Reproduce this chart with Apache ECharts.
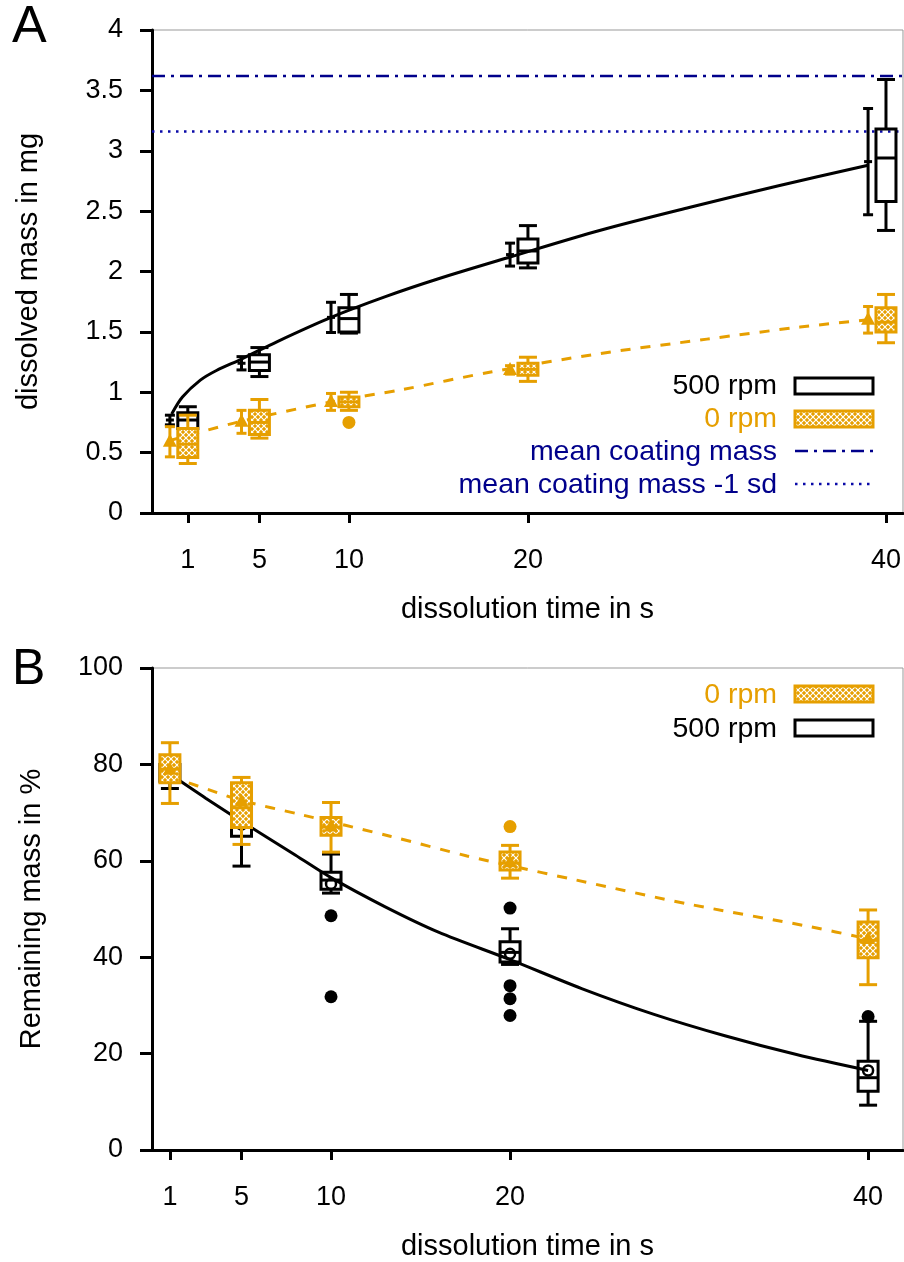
<!DOCTYPE html>
<html><head><meta charset="utf-8">
<script src="https://cdn.jsdelivr.net/npm/echarts@6/dist/echarts.min.js"></script>
<style>html,body{margin:0;padding:0;background:#fff}#c{width:904px;height:1262px}</style>
</head><body><div id="c"></div>
<script>
// ---------- DATA ----------
const timeTicks = [1, 5, 10, 20, 40];
// Panel A: dissolved mass (mg); box rows: [time, min, Q1, median, Q3, max]
const boxA500 = [
  [1, 0.65, 0.70, 0.77, 0.83, 0.88],
  [5, 1.13, 1.18, 1.25, 1.31, 1.37],
  [10, 1.49, 1.50, 1.61, 1.70, 1.81],
  [20, 2.03, 2.07, 2.17, 2.27, 2.38],
  [40, 2.34, 2.58, 2.94, 3.18, 3.59]
];
const boxA0 = [
  [1, 0.41, 0.46, 0.57, 0.70, 0.81],
  [5, 0.62, 0.65, 0.75, 0.85, 0.94],
  [10, 0.85, 0.88, 0.92, 0.96, 1.00],
  [20, 1.09, 1.14, 1.19, 1.24, 1.29],
  [40, 1.41, 1.50, 1.58, 1.70, 1.81]
];
const outliersA0 = [[10, 0.75]];
// mean +- sd: [time, mean, sd]
const meanA500 = [[1, 0.77, 0.04], [5, 1.24, 0.055], [10, 1.62, 0.125], [20, 2.14, 0.095], [40, 2.91, 0.44]];
const meanA0 = [[1, 0.59, 0.125], [5, 0.755, 0.095], [10, 0.92, 0.07], [20, 1.185, 0.035], [40, 1.60, 0.11]];
// fitted curves, [time] and [value]
const fitA500Time = [1.1, 1.7, 2.7, 3.6, 5, 7, 10, 13, 16, 20, 25, 30, 35, 40];
const fitA500Val = [0.82, 0.96, 1.10, 1.18, 1.275, 1.42, 1.62, 1.79, 1.94, 2.12, 2.34, 2.53, 2.71, 2.88];
const fitA0Time = [1, 2.7, 5, 10, 13.9, 19, 25, 31, 36.2, 40];
const fitA0Val = [0.60, 0.67, 0.76, 0.92, 1.02, 1.17, 1.32, 1.44, 1.54, 1.60];
const coatingMean = 3.62;
const coatingMeanMinusSd = 3.16;

// Panel B: remaining mass (%)
const boxB0 = [
  [1, 71.9, 76.2, 79.0, 82.0, 84.5],
  [5, 63.4, 66.9, 71.0, 76.2, 77.3],
  [10, 61.8, 65.3, 67.0, 69.0, 72.1],
  [20, 56.4, 58.1, 59.5, 61.8, 63.2],
  [40, 34.3, 39.9, 43.5, 47.3, 49.8]
];
const boxB500 = [
  [1, 75.0, 76.5, 78.0, 80.0, 81.5],
  [5, 58.9, 65.1, 68.0, 71.0, 74.0],
  [10, 53.3, 54.1, 56.0, 57.6, 61.4],
  [20, 38.5, 39.0, 41.0, 43.2, 45.9],
  [40, 9.3, 12.2, 15.0, 18.4, 26.7]
];
const outliersB0 = [[20, 67.1]];
const outliersB500 = [[10, 48.6], [10, 31.8], [20, 50.2], [20, 34.1], [20, 31.4], [20, 27.9], [40, 27.7]];
const meanB0 = [[1, 78.9], [5, 72.3], [10, 67.1], [20, 59.7], [40, 43.8]];
const meanB500 = [[1, 78.0], [5, 67.5], [10, 55.2], [20, 40.7], [40, 16.5]];
const fitB500Time = [1, 3, 5.5, 8, 10, 13, 16, 20, 24, 28, 32, 36, 40];
const fitB500Val = [78, 73, 67, 61.2, 56.5, 50.5, 45.2, 39.5, 33.5, 28.2, 23.7, 19.8, 16.5];
const fitB0Time = [1, 3.6, 5, 8.3, 13.3, 17.6, 20, 23.7, 30, 36.8, 40];
const fitB0Val = [77.5, 74.2, 72.5, 69.6, 65.1, 61, 59, 56, 51, 46.3, 43.8];

// ---------- STYLE ----------
const ORANGE = '#E69F00';
const BLUE = '#00008B';
const BLUE2 = '#0a0aa8';
const FONT = "'Liberation Sans', Arial, sans-serif";
const TICK_FS = 27, TITLE_FS = 29, LEG_FS = 28.5;
const MEAN_SHIFT_A = -1; // means plotted beside the boxes in panel A

function makePattern() {
  const c = document.createElement('canvas');
  c.width = 6; c.height = 6;
  const g = c.getContext('2d');
  g.fillStyle = ORANGE; g.fillRect(0, 0, 6, 6);
  g.strokeStyle = '#ffffff'; g.lineWidth = 1.2;
  g.beginPath();
  g.moveTo(0, 0); g.lineTo(6, 6);
  g.moveTo(6, 0); g.lineTo(0, 6);
  g.stroke();
  return { image: c, repeat: 'repeat' };
}
const PATTERN = makePattern();

function boxRender(stroke, fill) {
  return function (params, api) {
    const t = api.value(0);
    const p = [1, 2, 3, 4, 5].map(i => api.coord([t, api.value(i)]));
    const x = p[0][0], hw = 10, cw = 9;
    const ls = { stroke: stroke, lineWidth: 3 };
    return {
      type: 'group', children: [
        { type: 'line', shape: { x1: x, y1: p[0][1], x2: x, y2: p[1][1] }, style: ls },
        { type: 'line', shape: { x1: x, y1: p[3][1], x2: x, y2: p[4][1] }, style: ls },
        { type: 'line', shape: { x1: x - cw, y1: p[0][1], x2: x + cw, y2: p[0][1] }, style: ls },
        { type: 'line', shape: { x1: x - cw, y1: p[4][1], x2: x + cw, y2: p[4][1] }, style: ls },
        { type: 'rect', shape: { x: x - hw, y: p[3][1], width: 2 * hw, height: p[1][1] - p[3][1] },
          style: { fill: fill, stroke: stroke, lineWidth: 3 } },
        { type: 'line', shape: { x1: x - hw, y1: p[2][1], x2: x + hw, y2: p[2][1] }, style: ls }
      ]
    };
  };
}

function errRender(color, marker, shift) {
  return function (params, api) {
    const t = api.value(0) + shift, m = api.value(1), s = api.value(2);
    const pm = api.coord([t, m]), pl = api.coord([t, m - s]), pu = api.coord([t, m + s]);
    const x = pm[0], cw = 5;
    const ls = { stroke: color, lineWidth: 3 };
    const ch = [
      { type: 'line', shape: { x1: x, y1: pl[1], x2: x, y2: pu[1] }, style: ls },
      { type: 'line', shape: { x1: x - cw, y1: pl[1], x2: x + cw, y2: pl[1] }, style: ls },
      { type: 'line', shape: { x1: x - cw, y1: pu[1], x2: x + cw, y2: pu[1] }, style: ls }
    ];
    if (marker === 'triangle') {
      ch.push({ type: 'polygon', shape: { points: [[x, pm[1] - 8], [x + 7, pm[1] + 5], [x - 7, pm[1] + 5]] },
        style: { fill: color } });
    } else {
      ch.push({ type: 'line', shape: { x1: x - 4, y1: pm[1], x2: x + 4, y2: pm[1] }, style: ls });
    }
    return { type: 'group', children: ch };
  };
}

function meanMarkerRender(color, marker) {
  return function (params, api) {
    const p = api.coord([api.value(0), api.value(1)]);
    if (marker === 'triangle') {
      return { type: 'polygon', shape: { points: [[p[0], p[1] - 8], [p[0] + 7, p[1] + 5], [p[0] - 7, p[1] + 5]] },
        style: { fill: color } };
    }
    return { type: 'circle', shape: { cx: p[0], cy: p[1], r: 5 }, style: { fill: 'none', stroke: color, lineWidth: 2.5 } };
  };
}

function zip(a, b, shift) { return a.map((t, i) => [t + (shift || 0), b[i]]); }

const axisCommonX = (gi, min, max, name, gap) => ({
  type: 'value', gridIndex: gi, min: min, max: max,
  name: name, nameLocation: 'middle', nameGap: gap,
  nameTextStyle: { fontSize: TITLE_FS, color: '#000', fontFamily: FONT },
  axisLine: { show: true, onZero: false, lineStyle: { color: '#000', width: 3 } },
  axisTick: { show: true, inside: false, length: 10, customValues: timeTicks, lineStyle: { color: '#000', width: 3 } },
  axisLabel: { customValues: timeTicks, fontSize: TICK_FS, color: '#000', fontFamily: FONT, margin: 34 },
  splitLine: { show: false }
});
const axisCommonY = (gi, min, max, interval, name, gap) => ({
  type: 'value', gridIndex: gi, min: min, max: max, interval: interval,
  name: name, nameLocation: 'middle', nameGap: gap,
  nameTextStyle: { fontSize: TITLE_FS, color: '#000', fontFamily: FONT },
  axisLine: { show: true, onZero: false, lineStyle: { color: '#000', width: 3 } },
  axisTick: { show: true, inside: false, length: 12, lineStyle: { color: '#000', width: 3 } },
  axisLabel: { fontSize: TICK_FS, color: '#000', fontFamily: FONT, margin: 29 },
  splitLine: { show: false }
});

const option = {
  animation: false,
  backgroundColor: '#fff',
  textStyle: { fontFamily: FONT },
  grid: [
    { left: 152, top: 30, width: 751, height: 483, show: true, borderColor: '#999', borderWidth: 1, backgroundColor: 'transparent' },
    { left: 152, top: 668, width: 751, height: 484, show: true, borderColor: '#999', borderWidth: 1, backgroundColor: 'transparent' }
  ],
  xAxis: [
    axisCommonX(0, -1, 40.95, 'dissolution time in s', 82),
    axisCommonX(1, 0, 41.95, 'dissolution time in s', 82)
  ],
  yAxis: [
    axisCommonY(0, 0, 4, 0.5, 'dissolved mass in mg', 109),
    axisCommonY(1, 0, 100, 20, 'Remaining mass in %', 106)
  ],
  series: [
    // ---- Panel A ----
    { type: 'line', xAxisIndex: 0, yAxisIndex: 0, data: [[-1, coatingMean], [41, coatingMean]], symbol: 'none',
      lineStyle: { color: BLUE, width: 2.5, type: [13, 6, 3, 6] }, z: 1 },
    { type: 'line', xAxisIndex: 0, yAxisIndex: 0, data: [[-1, coatingMeanMinusSd], [41, coatingMeanMinusSd]], symbol: 'none',
      lineStyle: { color: BLUE2, width: 2.5, type: [2.5, 5.5] }, z: 1 },
    { type: 'line', xAxisIndex: 0, yAxisIndex: 0, data: zip(fitA500Time, fitA500Val, MEAN_SHIFT_A), smooth: 0.3, symbol: 'none',
      lineStyle: { color: '#000', width: 3 }, z: 2 },
    { type: 'custom', xAxisIndex: 0, yAxisIndex: 0, data: boxA500, renderItem: boxRender('#000', 'rgba(255,255,255,0)'), z: 3 },
    { type: 'custom', xAxisIndex: 0, yAxisIndex: 0, data: meanA500, renderItem: errRender('#000', 'tick', MEAN_SHIFT_A), z: 3 },
    { type: 'line', xAxisIndex: 0, yAxisIndex: 0, data: zip(fitA0Time, fitA0Val, MEAN_SHIFT_A), smooth: 0.3, symbol: 'none',
      lineStyle: { color: ORANGE, width: 3, type: [10, 10] }, z: 4 },
    { type: 'custom', xAxisIndex: 0, yAxisIndex: 0, data: boxA0, renderItem: boxRender(ORANGE, PATTERN), z: 5 },
    { type: 'custom', xAxisIndex: 0, yAxisIndex: 0, data: meanA0, renderItem: errRender(ORANGE, 'triangle', MEAN_SHIFT_A), z: 5 },
    { type: 'scatter', xAxisIndex: 0, yAxisIndex: 0, data: outliersA0, symbol: 'circle', symbolSize: 13,
      itemStyle: { color: ORANGE, opacity: 1 }, z: 5 },
    // ---- Panel B ----
    { type: 'line', xAxisIndex: 1, yAxisIndex: 1, data: zip(fitB500Time, fitB500Val), smooth: 0.3, symbol: 'none',
      lineStyle: { color: '#000', width: 3 }, z: 2 },
    { type: 'custom', xAxisIndex: 1, yAxisIndex: 1, data: boxB500, renderItem: boxRender('#000', 'rgba(255,255,255,0)'), z: 3 },
    { type: 'custom', xAxisIndex: 1, yAxisIndex: 1, data: meanB500, renderItem: meanMarkerRender('#000', 'circle'), z: 3 },
    { type: 'scatter', xAxisIndex: 1, yAxisIndex: 1, data: outliersB500, symbol: 'circle', symbolSize: 13,
      itemStyle: { color: '#000', opacity: 1 }, z: 3 },
    { type: 'line', xAxisIndex: 1, yAxisIndex: 1, data: zip(fitB0Time, fitB0Val), smooth: 0.3, symbol: 'none',
      lineStyle: { color: ORANGE, width: 3, type: [10, 10] }, z: 4 },
    { type: 'custom', xAxisIndex: 1, yAxisIndex: 1, data: boxB0, renderItem: boxRender(ORANGE, PATTERN), z: 5 },
    { type: 'custom', xAxisIndex: 1, yAxisIndex: 1, data: meanB0, renderItem: meanMarkerRender(ORANGE, 'triangle'), z: 5 },
    { type: 'scatter', xAxisIndex: 1, yAxisIndex: 1, data: outliersB0, symbol: 'circle', symbolSize: 13,
      itemStyle: { color: ORANGE, opacity: 1 }, z: 5 }
  ],
  graphic: [
    { type: 'text', left: 12, top: 2, style: { text: 'A', fontSize: 52, fontFamily: FONT, fill: '#000' } },
    { type: 'text', left: 12, top: 645, style: { text: 'B', fontSize: 50, fontFamily: FONT, fill: '#000' } },
    // legend A
    { type: 'text', x: 777, y: 386, style: { text: '500 rpm', fontSize: LEG_FS, fontFamily: FONT, fill: '#000', align: 'right', verticalAlign: 'middle' } },
    { type: 'rect', shape: { x: 795, y: 378, width: 78, height: 16 }, style: { fill: '#fff', stroke: '#000', lineWidth: 3 } },
    { type: 'text', x: 777, y: 419, style: { text: '0 rpm', fontSize: LEG_FS, fontFamily: FONT, fill: ORANGE, align: 'right', verticalAlign: 'middle' } },
    { type: 'rect', shape: { x: 795, y: 411, width: 78, height: 16 }, style: { fill: PATTERN, stroke: ORANGE, lineWidth: 3 } },
    { type: 'text', x: 777, y: 452, style: { text: 'mean coating mass', fontSize: LEG_FS, fontFamily: FONT, fill: BLUE, align: 'right', verticalAlign: 'middle' } },
    { type: 'line', shape: { x1: 795, y1: 451, x2: 873, y2: 451 }, style: { stroke: BLUE, lineWidth: 2.5, lineDash: [13, 6, 3, 6] } },
    { type: 'text', x: 777, y: 485, style: { text: 'mean coating mass -1 sd', fontSize: LEG_FS, fontFamily: FONT, fill: BLUE, align: 'right', verticalAlign: 'middle' } },
    { type: 'line', shape: { x1: 795, y1: 484, x2: 873, y2: 484 }, style: { stroke: BLUE2, lineWidth: 2.5, lineDash: [2.5, 5.5] } },
    // legend B
    { type: 'text', x: 777, y: 695, style: { text: '0 rpm', fontSize: LEG_FS, fontFamily: FONT, fill: ORANGE, align: 'right', verticalAlign: 'middle' } },
    { type: 'rect', shape: { x: 795, y: 686, width: 78, height: 16 }, style: { fill: PATTERN, stroke: ORANGE, lineWidth: 3 } },
    { type: 'text', x: 777, y: 729, style: { text: '500 rpm', fontSize: LEG_FS, fontFamily: FONT, fill: '#000', align: 'right', verticalAlign: 'middle' } },
    { type: 'rect', shape: { x: 795, y: 720, width: 78, height: 16 }, style: { fill: '#fff', stroke: '#000', lineWidth: 3 } }
  ]
};

const chart = echarts.init(document.getElementById('c'), null, { renderer: 'canvas' });
chart.setOption(option);
</script>
</body></html>
